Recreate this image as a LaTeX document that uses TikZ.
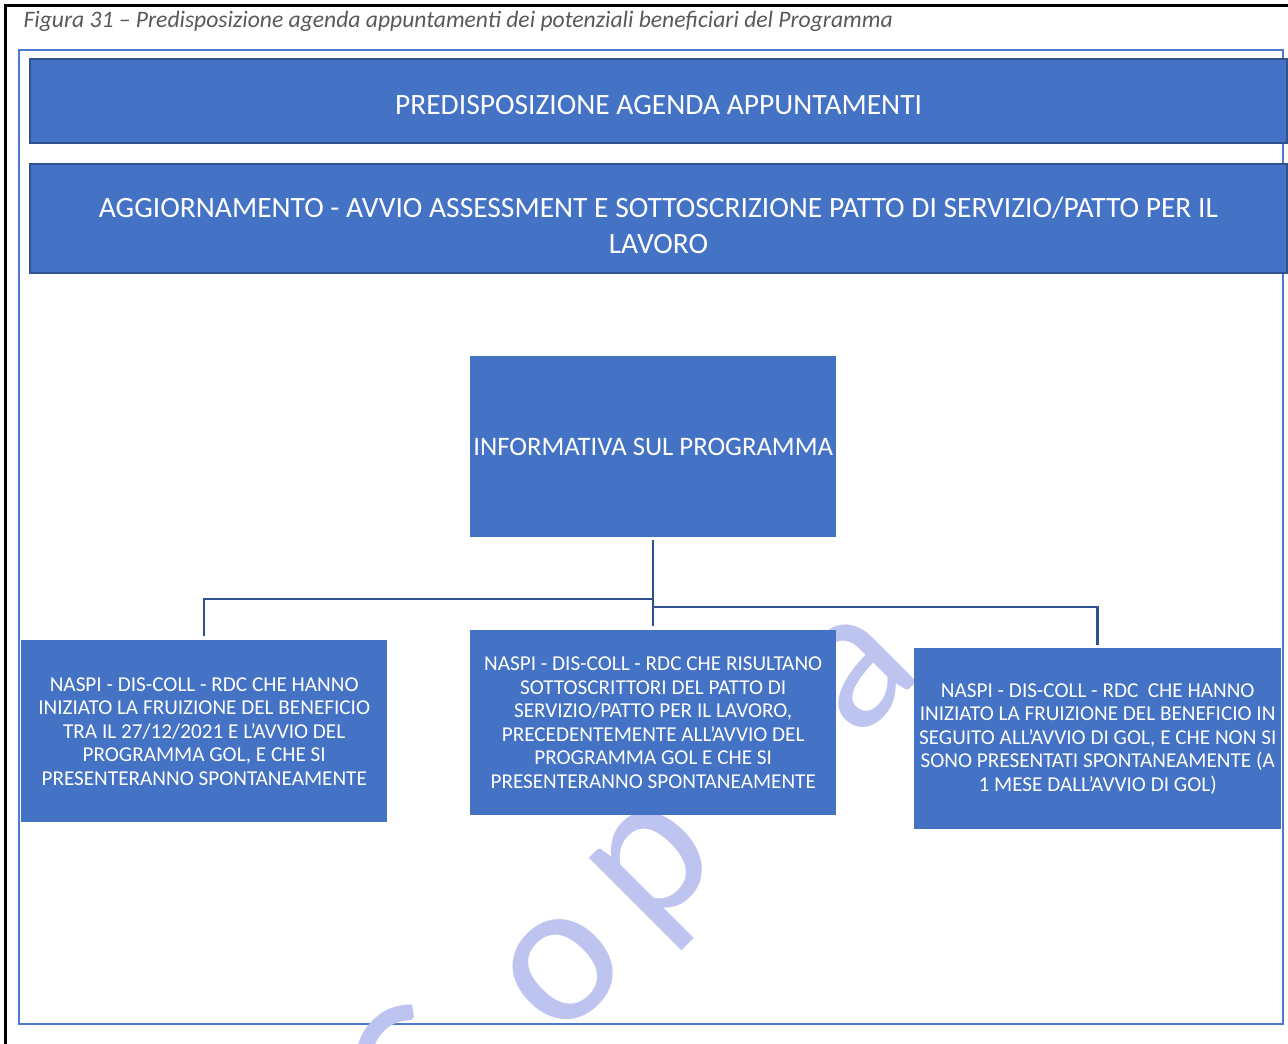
\documentclass[tikz,border=0pt]{standalone}
\usepackage{fontspec}
\setmainfont{Carlito}
\usetikzlibrary{positioning}
\definecolor{boxblue}{RGB}{68,114,196}
\definecolor{edgeblue}{RGB}{47,82,143}
\definecolor{framblue}{RGB}{76,122,206}
\definecolor{capgray}{RGB}{89,89,89}
\definecolor{wmark}{RGB}{190,196,240}

\begin{document}
\begin{tikzpicture}[x=1pt, y=-1pt,
		box/.style={fill=boxblue, text=white, inner sep=0pt, anchor=north west, align=center},
		band/.style={box, draw=edgeblue, line width=2pt, minimum width=1257pt},
		bandtext/.style={text=white, inner sep=0pt, align=center, font=\fontsize{29.5}{36}\selectfont},
		smallbox/.style={box, minimum width=366pt, font=\fontsize{21.2}{23.5}\selectfont},
		link/.style={draw=edgeblue, line width=2.5pt}]
			\useasboundingbox (0,0) rectangle (1288,1044);
			
			% outer frame and caption
			\draw [line width=3pt] (5,1044)--(5,5)--(1288,5);
			\draw [framblue, line width=2pt] (19,50) rectangle (1283,1024);
			\node [anchor=west, text=capgray, font=\fontsize{23.6}{28}\selectfont\itshape] (caption) at (20,21)
				{Figura 31 -- Predisposizione agenda appuntamenti dei potenziali beneficiari del Programma};
			
			% watermark, one letter at a time along the diagonal
			\foreach \l/\x/\y in {C/458/1120,o/596/1003,p/685/898,i/798/807,a/890/706}{
				\node [rotate=45, anchor=mid, text=wmark, font=\fontsize{205}{205}\selectfont] (wm-\l)
					at (\x,\y) {\l};
			}
			
			\node [band, minimum height=84pt] (agenda) at (29,58) {};
			\node [bandtext] (agenda-text) at ([yshift=-4pt]agenda.center) {PREDISPOSIZIONE AGENDA APPUNTAMENTI};
			\node [band, minimum height=109pt] (assess) at (29,163) {};
			\node [bandtext] (assess-text) at ([yshift=-7pt]assess.center)
				{AGGIORNAMENTO - AVVIO ASSESSMENT E SOTTOSCRIZIONE PATTO DI SERVIZIO/PATTO PER IL\\LAVORO};
			
			\node [box, minimum width=366pt, minimum height=181pt, font=\fontsize{26.7}{31}\selectfont] (info) at (470,356)
				{INFORMATIVA SUL PROGRAMMA};
			
			\node [smallbox, minimum height=182pt] (left) at (21,640)
				{NASPI - DIS-COLL - RDC CHE HANNO\\INIZIATO LA FRUIZIONE DEL BENEFICIO\\TRA IL 27/12/2021 E L'AVVIO DEL\\PROGRAMMA GOL, E CHE SI\\PRESENTERANNO SPONTANEAMENTE};
			\node [smallbox, minimum height=185pt] (mid) at (470,630)
				{NASPI - DIS-COLL - RDC CHE RISULTANO\\SOTTOSCRITTORI DEL PATTO DI\\SERVIZIO/PATTO PER IL LAVORO,\\PRECEDENTEMENTE ALL'AVVIO DEL\\PROGRAMMA GOL E CHE SI\\PRESENTERANNO SPONTANEAMENTE};
			\node [smallbox, minimum width=367pt, minimum height=181pt] (right) at (914,648)
				{NASPI - DIS-COLL - RDC~~CHE HANNO\\INIZIATO LA FRUIZIONE DEL BENEFICIO IN\\SEGUITO ALL'AVVIO DI GOL, E CHE NON SI\\SONO PRESENTATI SPONTANEAMENTE (A\\1 MESE DALL'AVVIO DI GOL)};
			
			\draw [link] ([yshift=-3pt]info.south) -- ([yshift=4pt]mid.north);
			\draw [link] (info.south |- 0,599) -| ([yshift=4pt]left.north);
			\draw [link] (info.south |- 0,607) -| ([yshift=3pt]right.north);
		\end{tikzpicture}
\end{document}
